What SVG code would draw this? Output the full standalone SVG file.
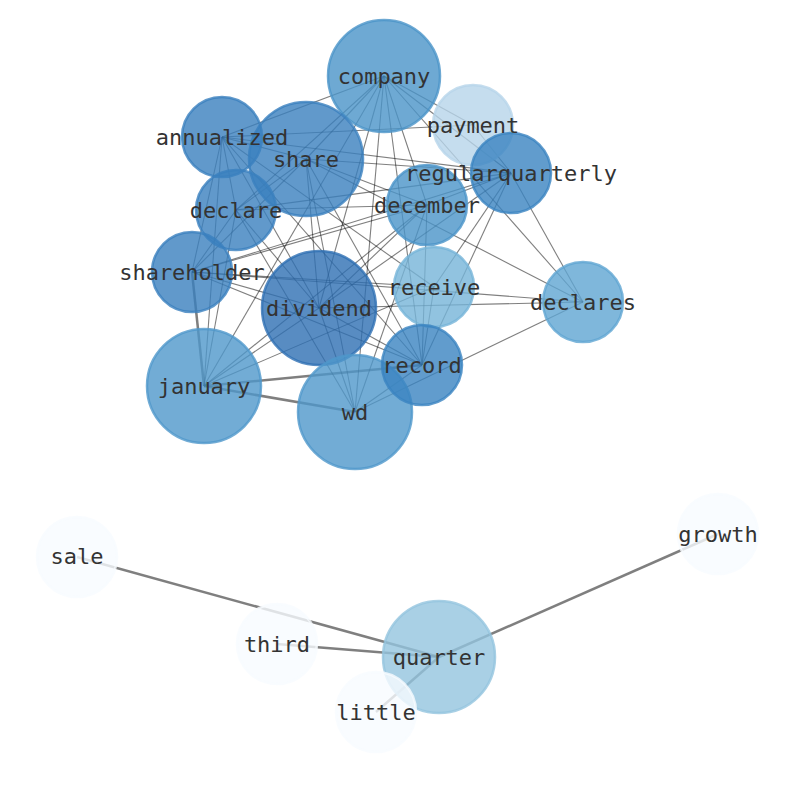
<svg xmlns="http://www.w3.org/2000/svg" width="794" height="790" viewBox="0 0 794 790">
<style>
.e{stroke:#000;stroke-opacity:0.5;stroke-width:1.1;fill:none}
.t{stroke-width:2.5}
.n circle{fill-opacity:0.8;stroke-opacity:0.8;stroke-width:2.5}
.l text{font-family:"DejaVu Sans Mono","Liberation Mono",monospace;font-size:22px;fill:#333;text-anchor:middle}
</style>
<rect width="794" height="790" fill="#fff"/>
<g id="edges">
<line class="e" x1="384" y1="76" x2="222" y2="137"/>
<line class="e" x1="384" y1="76" x2="306" y2="159"/>
<line class="e" x1="384" y1="76" x2="236" y2="210"/>
<line class="e" x1="384" y1="76" x2="319" y2="308"/>
<line class="e" x1="384" y1="76" x2="204" y2="386"/>
<line class="e" x1="384" y1="76" x2="355" y2="412"/>
<line class="e" x1="384" y1="76" x2="422" y2="365"/>
<line class="e" x1="384" y1="76" x2="427" y2="205"/>
<line class="e" x1="384" y1="76" x2="473" y2="125"/>
<line class="e" x1="384" y1="76" x2="511" y2="173"/>
<line class="e" x1="384" y1="76" x2="583" y2="302"/>
<line class="e" x1="222" y1="137" x2="306" y2="159"/>
<line class="e" x1="222" y1="137" x2="236" y2="210"/>
<line class="e" x1="222" y1="137" x2="192" y2="272"/>
<line class="e" x1="222" y1="137" x2="319" y2="308"/>
<line class="e" x1="222" y1="137" x2="204" y2="386"/>
<line class="e" x1="222" y1="137" x2="434" y2="287"/>
<line class="e" x1="222" y1="137" x2="473" y2="125"/>
<line class="e" x1="222" y1="137" x2="511" y2="173"/>
<line class="e" x1="222" y1="137" x2="422" y2="365"/>
<line class="e" x1="306" y1="159" x2="236" y2="210"/>
<line class="e" x1="306" y1="159" x2="192" y2="272"/>
<line class="e" x1="306" y1="159" x2="319" y2="308"/>
<line class="e" x1="306" y1="159" x2="355" y2="412"/>
<line class="e" x1="306" y1="159" x2="422" y2="365"/>
<line class="e" x1="306" y1="159" x2="427" y2="205"/>
<line class="e" x1="306" y1="159" x2="511" y2="173"/>
<line class="e" x1="306" y1="159" x2="583" y2="302"/>
<line class="e" x1="236" y1="210" x2="192" y2="272"/>
<line class="e" x1="236" y1="210" x2="319" y2="308"/>
<line class="e" x1="236" y1="210" x2="204" y2="386"/>
<line class="e" x1="236" y1="210" x2="427" y2="205"/>
<line class="e" x1="236" y1="210" x2="511" y2="173"/>
<line class="e" x1="236" y1="210" x2="355" y2="412"/>
<line class="e" x1="192" y1="272" x2="319" y2="308"/>
<line class="e t" x1="192" y1="272" x2="204" y2="386"/>
<line class="e" x1="192" y1="272" x2="422" y2="365"/>
<line class="e" x1="192" y1="272" x2="434" y2="287"/>
<line class="e" x1="192" y1="272" x2="511" y2="173"/>
<line class="e" x1="192" y1="272" x2="583" y2="302"/>
<line class="e" x1="192" y1="272" x2="427" y2="205"/>
<line class="e" x1="319" y1="308" x2="204" y2="386"/>
<line class="e" x1="319" y1="308" x2="355" y2="412"/>
<line class="e" x1="319" y1="308" x2="422" y2="365"/>
<line class="e" x1="319" y1="308" x2="427" y2="205"/>
<line class="e" x1="319" y1="308" x2="511" y2="173"/>
<line class="e" x1="319" y1="308" x2="583" y2="302"/>
<line class="e t" x1="204" y1="386" x2="355" y2="412"/>
<line class="e t" x1="204" y1="386" x2="422" y2="365"/>
<line class="e" x1="204" y1="386" x2="434" y2="287"/>
<line class="e" x1="204" y1="386" x2="427" y2="205"/>
<line class="e" x1="355" y1="412" x2="422" y2="365"/>
<line class="e" x1="355" y1="412" x2="583" y2="302"/>
<line class="e" x1="355" y1="412" x2="427" y2="205"/>
<line class="e" x1="422" y1="365" x2="434" y2="287"/>
<line class="e" x1="422" y1="365" x2="427" y2="205"/>
<line class="e" x1="422" y1="365" x2="511" y2="173"/>
<line class="e" x1="434" y1="287" x2="511" y2="173"/>
<line class="e" x1="427" y1="205" x2="511" y2="173"/>
<line class="e" x1="511" y1="173" x2="583" y2="302"/>
<line class="e" x1="511" y1="173" x2="473" y2="125"/>
<line class="e t" x1="77" y1="557" x2="439" y2="657"/>
<line class="e t" x1="277" y1="644" x2="439" y2="657"/>
<line class="e t" x1="718" y1="534" x2="439" y2="657"/>
<line class="e t" x1="376" y1="712" x2="439" y2="657"/>
</g>
<g id="node-company" class="n"><circle cx="384" cy="76" r="56" fill="#4a94c8" stroke="#4a94c8"/></g>
<g id="node-payment" class="n"><circle cx="473" cy="125" r="40" fill="#b7d4ea" stroke="#b7d4ea"/></g>
<g id="node-regularquarterly" class="n"><circle cx="511" cy="173" r="40" fill="#3a83c0" stroke="#3a83c0"/></g>
<g id="node-annualized" class="n"><circle cx="222" cy="137" r="40" fill="#3a7fbe" stroke="#3a7fbe"/></g>
<g id="node-share" class="n"><circle cx="306" cy="159" r="57" fill="#3a7fbe" stroke="#3a7fbe"/></g>
<g id="node-december" class="n"><circle cx="427" cy="205" r="40" fill="#4a94c8" stroke="#4a94c8"/></g>
<g id="node-declare" class="n"><circle cx="236" cy="210" r="40" fill="#3a7fbe" stroke="#3a7fbe"/></g>
<g id="node-shareholder" class="n"><circle cx="192" cy="272" r="40" fill="#3a7fbe" stroke="#3a7fbe"/></g>
<g id="node-receive" class="n"><circle cx="434" cy="287" r="40" fill="#75b4d8" stroke="#75b4d8"/></g>
<g id="node-declares" class="n"><circle cx="583" cy="302" r="40" fill="#5fa5d2" stroke="#5fa5d2"/></g>
<g id="node-dividend" class="n"><circle cx="319" cy="308" r="57" fill="#2e6fb3" stroke="#2e6fb3"/></g>
<g id="node-january" class="n"><circle cx="204" cy="386" r="57" fill="#4f97ca" stroke="#4f97ca"/></g>
<g id="node-wd" class="n"><circle cx="355" cy="412" r="57" fill="#4f97ca" stroke="#4f97ca"/></g>
<g id="node-record" class="n"><circle cx="422" cy="365" r="40" fill="#3a83c0" stroke="#3a83c0"/></g>
<g id="node-sale" class="n"><circle cx="77" cy="557" r="40" fill="#f7fbff" stroke="#f7fbff"/></g>
<g id="node-growth" class="n"><circle cx="718" cy="534" r="40" fill="#f7fbff" stroke="#f7fbff"/></g>
<g id="node-quarter" class="n"><circle cx="439" cy="657" r="56" fill="#94c4df" stroke="#94c4df"/></g>
<g id="node-third" class="n"><circle cx="277" cy="644" r="40" fill="#f7fbff" stroke="#f7fbff"/></g>
<g id="node-little" class="n"><circle cx="376" cy="712" r="40" fill="#f7fbff" stroke="#f7fbff"/></g>
<g id="labels" class="l">
<text id="label-company" x="384" y="84">company</text>
<text id="label-payment" x="473" y="133">payment</text>
<text id="label-regularquarterly" x="511" y="181">regularquarterly</text>
<text id="label-annualized" x="222" y="145">annualized</text>
<text id="label-share" x="306" y="167">share</text>
<text id="label-december" x="427" y="213">december</text>
<text id="label-declare" x="236" y="218">declare</text>
<text id="label-shareholder" x="192" y="280">shareholder</text>
<text id="label-receive" x="434" y="295">receive</text>
<text id="label-declares" x="583" y="310">declares</text>
<text id="label-dividend" x="319" y="316">dividend</text>
<text id="label-january" x="204" y="394">january</text>
<text id="label-wd" x="355" y="420">wd</text>
<text id="label-record" x="422" y="373">record</text>
<text id="label-sale" x="77" y="564">sale</text>
<text id="label-growth" x="718" y="542">growth</text>
<text id="label-quarter" x="439" y="665">quarter</text>
<text id="label-third" x="277" y="652">third</text>
<text id="label-little" x="376" y="720">little</text>
</g>
</svg>
